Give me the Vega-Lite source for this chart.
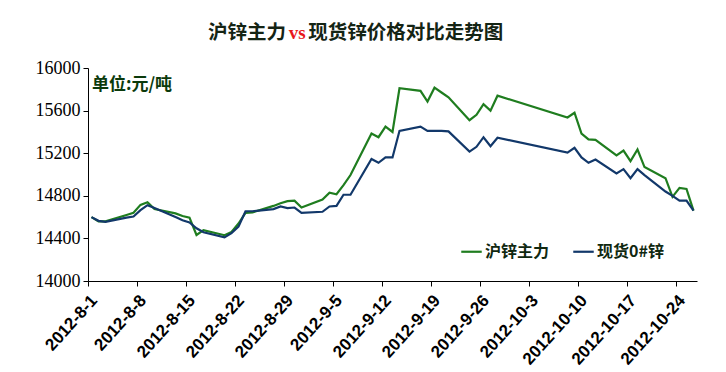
{
  "$schema": "https://vega.github.io/schema/vega-lite/v6.json",
  "width": 609,
  "height": 213,
  "autosize": {"type": "none"},
  "padding": {"left": 88, "top": 68, "right": 29, "bottom": 91},
  "background": "white",
  "config": {"view": {"stroke": null}},
  "layer": [
    {
      "data": {"values": [
        {"d": "2012-08-01T12:00:00", "沪锌主力": 14600, "现货0#锌": 14600},
        {"d": "2012-08-02T12:00:00", "沪锌主力": 14560, "现货0#锌": 14565},
        {"d": "2012-08-03T12:00:00", "沪锌主力": 14560, "现货0#锌": 14555},
        {"d": "2012-08-06T12:00:00", "沪锌主力": 14620, "现货0#锌": 14595},
        {"d": "2012-08-07T12:00:00", "沪锌主力": 14640, "现货0#锌": 14605},
        {"d": "2012-08-08T12:00:00", "沪锌主力": 14715, "现货0#锌": 14665},
        {"d": "2012-08-09T12:00:00", "沪锌主力": 14740, "现货0#锌": 14712},
        {"d": "2012-08-10T12:00:00", "沪锌主力": 14675, "现货0#锌": 14685},
        {"d": "2012-08-13T12:00:00", "沪锌主力": 14635, "现货0#锌": 14600},
        {"d": "2012-08-14T12:00:00", "沪锌主力": 14610, "现货0#锌": 14570},
        {"d": "2012-08-15T12:00:00", "沪锌主力": 14595, "现货0#锌": 14550},
        {"d": "2012-08-16T12:00:00", "沪锌主力": 14432, "现货0#锌": 14495},
        {"d": "2012-08-17T12:00:00", "沪锌主力": 14478, "现货0#锌": 14458},
        {"d": "2012-08-20T12:00:00", "沪锌主力": 14430, "现货0#锌": 14410},
        {"d": "2012-08-21T12:00:00", "沪锌主力": 14460, "现货0#锌": 14450},
        {"d": "2012-08-22T12:00:00", "沪锌主力": 14540, "现货0#锌": 14510},
        {"d": "2012-08-23T12:00:00", "沪锌主力": 14640, "现货0#锌": 14655},
        {"d": "2012-08-24T12:00:00", "沪锌主力": 14645, "现货0#锌": 14655},
        {"d": "2012-08-27T12:00:00", "沪锌主力": 14705, "现货0#锌": 14675},
        {"d": "2012-08-28T12:00:00", "沪锌主力": 14730, "现货0#锌": 14700},
        {"d": "2012-08-29T12:00:00", "沪锌主力": 14750, "现货0#锌": 14685},
        {"d": "2012-08-30T12:00:00", "沪锌主力": 14755, "现货0#锌": 14690},
        {"d": "2012-08-31T12:00:00", "沪锌主力": 14690, "现货0#锌": 14640},
        {"d": "2012-09-03T12:00:00", "沪锌主力": 14765, "现货0#锌": 14650},
        {"d": "2012-09-04T12:00:00", "沪锌主力": 14830, "现货0#锌": 14700},
        {"d": "2012-09-05T12:00:00", "沪锌主力": 14815, "现货0#锌": 14705},
        {"d": "2012-09-06T12:00:00", "沪锌主力": 14900, "现货0#锌": 14810},
        {"d": "2012-09-07T12:00:00", "沪锌主力": 14995, "现货0#锌": 14810},
        {"d": "2012-09-10T12:00:00", "沪锌主力": 15385, "现货0#锌": 15145},
        {"d": "2012-09-11T12:00:00", "沪锌主力": 15350, "现货0#锌": 15110},
        {"d": "2012-09-12T12:00:00", "沪锌主力": 15450, "现货0#锌": 15160},
        {"d": "2012-09-13T12:00:00", "沪锌主力": 15400, "现货0#锌": 15160},
        {"d": "2012-09-14T12:00:00", "沪锌主力": 15810, "现货0#锌": 15410},
        {"d": "2012-09-17T12:00:00", "沪锌主力": 15785, "现货0#锌": 15450},
        {"d": "2012-09-18T12:00:00", "沪锌主力": 15685, "现货0#锌": 15410},
        {"d": "2012-09-19T12:00:00", "沪锌主力": 15815, "现货0#锌": 15410},
        {"d": "2012-09-20T12:00:00", "沪锌主力": 15770, "现货0#锌": 15410},
        {"d": "2012-09-21T12:00:00", "沪锌主力": 15725, "现货0#锌": 15405},
        {"d": "2012-09-24T12:00:00", "沪锌主力": 15510, "现货0#锌": 15215},
        {"d": "2012-09-25T12:00:00", "沪锌主力": 15560, "现货0#锌": 15260},
        {"d": "2012-09-26T12:00:00", "沪锌主力": 15660, "现货0#锌": 15350},
        {"d": "2012-09-27T12:00:00", "沪锌主力": 15600, "现货0#锌": 15265},
        {"d": "2012-09-28T12:00:00", "沪锌主力": 15740, "现货0#锌": 15345},
        {"d": "2012-10-08T12:00:00", "沪锌主力": 15535, "现货0#锌": 15205},
        {"d": "2012-10-09T12:00:00", "沪锌主力": 15580, "现货0#锌": 15250},
        {"d": "2012-10-10T12:00:00", "沪锌主力": 15385, "现货0#锌": 15160},
        {"d": "2012-10-11T12:00:00", "沪锌主力": 15330, "现货0#锌": 15110},
        {"d": "2012-10-12T12:00:00", "沪锌主力": 15325, "现货0#锌": 15140},
        {"d": "2012-10-15T12:00:00", "沪锌主力": 15180, "现货0#锌": 15010},
        {"d": "2012-10-16T12:00:00", "沪锌主力": 15225, "现货0#锌": 15050},
        {"d": "2012-10-17T12:00:00", "沪锌主力": 15125, "现货0#锌": 14965},
        {"d": "2012-10-18T12:00:00", "沪锌主力": 15235, "现货0#锌": 15050},
        {"d": "2012-10-19T12:00:00", "沪锌主力": 15070, "现货0#锌": 14995},
        {"d": "2012-10-22T12:00:00", "沪锌主力": 14965, "现货0#锌": 14840},
        {"d": "2012-10-23T12:00:00", "沪锌主力": 14790, "现货0#锌": 14800},
        {"d": "2012-10-24T12:00:00", "沪锌主力": 14875, "现货0#锌": 14755},
        {"d": "2012-10-25T12:00:00", "沪锌主力": 14865, "现货0#锌": 14755},
        {"d": "2012-10-26T12:00:00", "沪锌主力": 14660, "现货0#锌": 14660}
      ]},
      "transform": [{"fold": ["沪锌主力", "现货0#锌"], "as": ["series", "price"]}],
      "mark": {"type": "line", "strokeWidth": 2.2},
      "encoding": {
        "x": {
          "field": "d", "type": "temporal",
          "scale": {"domain": [{"year": 2012, "month": 8, "date": 1}, {"year": 2012, "month": 10, "date": 27}]},
          "axis": {
            "title": null, "grid": false,
            "values": [
              {"year": 2012, "month": 8, "date": 1}, {"year": 2012, "month": 8, "date": 8},
              {"year": 2012, "month": 8, "date": 15}, {"year": 2012, "month": 8, "date": 22},
              {"year": 2012, "month": 8, "date": 29}, {"year": 2012, "month": 9, "date": 5},
              {"year": 2012, "month": 9, "date": 12}, {"year": 2012, "month": 9, "date": 19},
              {"year": 2012, "month": 9, "date": 26}, {"year": 2012, "month": 10, "date": 3},
              {"year": 2012, "month": 10, "date": 10}, {"year": 2012, "month": 10, "date": 17},
              {"year": 2012, "month": 10, "date": 24}
            ],
            "format": "%Y-%-m-%-d",
            "labelAngle": -48, "labelAlign": "right", "labelBaseline": "top",
            "labelFont": "Liberation Sans", "labelFontWeight": "bold", "labelFontSize": 17,
            "labelColor": "black", "labelPadding": 6,
            "domainColor": "black", "tickColor": "black", "tickSize": 5, "labelOverlap": false
          }
        },
        "y": {
          "field": "price", "type": "quantitative",
          "scale": {"domain": [14000, 16000], "zero": false, "nice": false},
          "axis": {
            "title": null, "grid": false,
            "values": [14000, 14400, 14800, 15200, 15600, 16000],
            "format": "d",
            "labelFont": "serif", "labelFontSize": 18, "labelColor": "black",
            "labelPadding": 3,
            "domainColor": "black", "tickColor": "black", "tickSize": 5
          }
        },
        "color": {
          "field": "series", "type": "nominal",
          "scale": {"domain": ["沪锌主力", "现货0#锌"], "range": ["#1f7d1f", "#12386a"]},
          "legend": {
            "title": null, "orient": "none", "direction": "horizontal",
            "legendX": 372, "legendY": 172,
            "symbolType": "stroke", "symbolSize": 420, "symbolStrokeWidth": 2.2,
            "labelFont": "Noto Sans CJK SC", "labelFontWeight": "bold", "labelFontSize": 16,
            "labelColor": "#102810", "columnPadding": 18, "labelOffset": 2
          }
        }
      }
    },
    {
      "data": {"values": [{"t": "单位:元/吨"}]},
      "mark": {"type": "text", "align": "left", "baseline": "middle", "font": "Noto Sans CJK SC", "fontWeight": "bold", "fontSize": 17, "color": "#0b3a0b", "dx": 4},
      "encoding": {
        "x": {"datum": {"year": 2012, "month": 8, "date": 1}, "type": "temporal"},
        "y": {"datum": 15840, "type": "quantitative"},
        "text": {"field": "t"}
      }
    },
    {
      "data": {"values": [{"t": "沪锌主力"}]},
      "mark": {"type": "text", "align": "right", "baseline": "middle", "font": "Noto Sans CJK SC", "fontWeight": "bold", "fontSize": 19.5, "color": "#142414", "dx": -11},
      "encoding": {
        "x": {"datum": {"year": 2012, "month": 8, "date": 30, "hours": 21}, "type": "temporal"},
        "y": {"datum": 16329, "type": "quantitative"},
        "text": {"field": "t"}
      }
    },
    {
      "data": {"values": [{"t": "vs"}]},
      "mark": {"type": "text", "align": "center", "baseline": "middle", "font": "Liberation Serif", "fontWeight": "bold", "fontSize": 19, "color": "#e8161b"},
      "encoding": {
        "x": {"datum": {"year": 2012, "month": 8, "date": 30, "hours": 21}, "type": "temporal"},
        "y": {"datum": 16329, "type": "quantitative"},
        "text": {"field": "t"}
      }
    },
    {
      "data": {"values": [{"t": "现货锌价格对比走势图"}]},
      "mark": {"type": "text", "align": "left", "baseline": "middle", "font": "Noto Sans CJK SC", "fontWeight": "bold", "fontSize": 19.5, "color": "#142414", "dx": 11},
      "encoding": {
        "x": {"datum": {"year": 2012, "month": 8, "date": 30, "hours": 21}, "type": "temporal"},
        "y": {"datum": 16329, "type": "quantitative"},
        "text": {"field": "t"}
      }
    }
  ]
}
